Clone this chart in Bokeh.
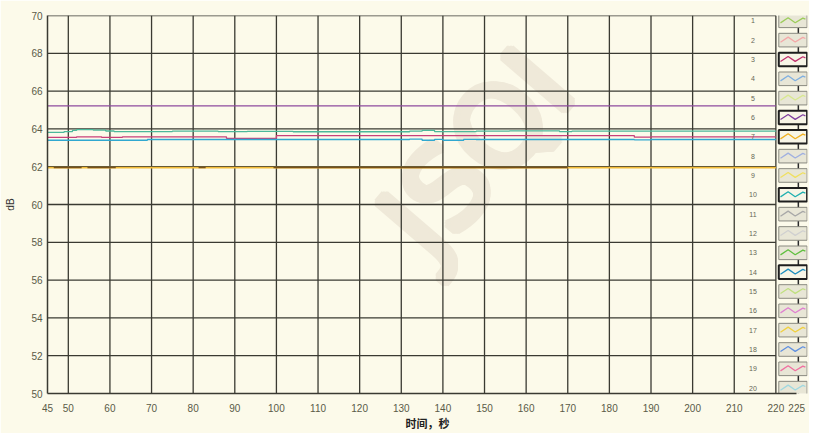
from bokeh.plotting import figure
from bokeh.models import FixedTicker, Range1d
from bokeh.core.properties import value
from bokeh.embed import file_html
from bokeh.resources import INLINE

# ---------------- data ----------------
x_ticks = [45, 50, 60, 70, 80, 90, 100, 110, 120, 130, 140, 150, 160, 170, 180, 190, 200, 210, 220, 225]
y_ticks = [50, 52, 54, 56, 58, 60, 62, 64, 66, 68, 70]

# channel 10 (teal green)
ch10_t = [45, 49, 51, 52, 56, 59, 61, 75, 86, 93, 104, 132, 135, 138, 148, 156, 168, 171, 220]
ch10_db = [63.82, 63.86, 63.92, 63.96, 63.93, 63.89, 63.86, 63.88, 63.86, 63.87, 63.85, 63.88, 63.92, 63.86, 63.88, 63.90, 63.86, 63.88, 63.88]
# channel 3 (magenta)
ch3_t = [45, 52, 58, 63, 88, 100, 186, 190, 220]
ch3_db = [63.55, 63.58, 63.55, 63.58, 63.50, 63.64, 63.56, 63.58, 63.58]
# channel 14 (blue)
ch14_t = [45, 69, 132, 135, 138, 140, 145, 148, 186, 190, 220]
ch14_db = [63.40, 63.44, 63.46, 63.40, 63.45, 63.40, 63.45, 63.44, 63.42, 63.44, 63.44]
# channel 6 (purple)
ch6_t = [45, 220]
ch6_db = [65.22, 65.22]
# channel 7 (orange)
ch7_t = [45, 220]
ch7_db = [61.95, 61.95]
# dark overlay segments on channel 7
dark_start = [46.5, 54.6, 81.3, 99.3]
dark_end = [53.2, 61.4, 83.0, 170.0]
dark_db = [61.95, 61.95, 61.95, 61.95]

legend_ids = list(range(1, 21))
legend_colors = ["#9ccc5a", "#f4a8a8", "#c0306e", "#80b0e0", "#d8e890",
                 "#8040a0", "#f0b020", "#a0b0e0", "#f0e060", "#20b0b0",
                 "#a8a8a8", "#d0d0d0", "#60c040", "#2090c0", "#c0e080",
                 "#e080d0", "#f0d040", "#6090e0", "#f070a0", "#a0d8e0"]
legend_active = [3, 6, 7, 10, 14]

BG = "#fcfaea"
GRID = "#3a3a32"

p = figure(width=809, height=433, output_backend="svg", toolbar_location=None,
           x_range=Range1d(45, 227.6), y_range=Range1d(50, 70),
           min_border_left=47, min_border_right=2, min_border_top=15, min_border_bottom=35,
           background_fill_color=BG, border_fill_color=BG)
p.outline_line_color = None
p.xgrid.visible = False
p.ygrid.visible = False

# axes
for ax in (p.xaxis, p.yaxis):
    ax.major_tick_in = 0
    ax.major_tick_out = 0
    ax.minor_tick_in = 0
    ax.minor_tick_out = 0
    ax.axis_line_color = GRID
    ax.axis_line_width = 1.5
    ax.major_label_text_font = "Liberation Sans"
    ax.major_label_text_font_size = "10px"
    ax.major_label_text_color = "#5a5a48"
p.xaxis.ticker = FixedTicker(ticks=x_ticks)
p.yaxis.ticker = FixedTicker(ticks=y_ticks)
p.xaxis.bounds = (45, 225)
p.xaxis.major_label_standoff = 10
p.yaxis.major_label_standoff = 5
p.xaxis.axis_label = "时间，秒"
p.xaxis.axis_label_text_font = "Noto Sans CJK SC"
p.xaxis.axis_label_text_font_style = "bold"
p.xaxis.axis_label_text_font_size = "11px"
p.xaxis.axis_label_text_color = "#222222"
p.xaxis.axis_label_standoff = 0
p.yaxis.axis_label = "dB"
p.yaxis.axis_label_text_font = "Liberation Sans"
p.yaxis.axis_label_text_font_style = "normal"
p.yaxis.axis_label_text_font_size = "10px"
p.yaxis.axis_label_text_color = "#333333"
p.yaxis.axis_label_standoff = 12

# watermark (drawn several times with small pixel offsets for a heavy look)
wm_dx = [dx for dx in (-3, -1.5, 0, 1.5, 3) for _ in range(5)]
wm_dy = [dy for _ in range(5) for dy in (-3, -1.5, 0, 1.5, 3)]
n_wm = len(wm_dx)
p.text(x=[148] * n_wm, y=[62.7] * n_wm, text=["JSQI"] * n_wm, angle=0.86,
       x_offset=wm_dx, y_offset=wm_dy, text_align="center", text_baseline="middle",
       text_font=value("DejaVu Sans"), text_font_size="112px", text_color="#efe9d9")

# grid lines drawn from tick lists
gx = x_ticks[1:-1]
gy = y_ticks[1:]
p.segment(x0=gx, y0=[y_ticks[0]] * len(gx), x1=gx, y1=[y_ticks[-1]] * len(gx),
          line_color=GRID, line_width=1.3)
p.segment(x0=[x_ticks[0]] * len(gy), y0=gy, x1=[x_ticks[-2]] * len(gy), y1=gy,
          line_color=GRID, line_width=1.3)

# data lines
p.step(ch6_t, ch6_db, mode="after", line_color="#8e4a9e", line_width=1.3)
p.step(ch10_t, ch10_db, mode="after", line_color="#4cb89a", line_width=1.3)
p.step(ch3_t, ch3_db, mode="after", line_color="#c8407a", line_width=1.3)
p.step(ch14_t, ch14_db, mode="after", line_color="#30a8d0", line_width=1.3)
p.step(ch7_t, ch7_db, mode="after", line_color="#f2bc3a", line_width=1.8)
p.segment(x0=dark_start, y0=dark_db, x1=dark_end, y1=dark_db, line_color="#7a5218", line_width=1.4)

# legend panel (right side)
row_y = [69.72 - (i - 1) * 1.023 for i in legend_ids]
box_x = 224.1
box_w = 6.8
box_h = 0.72
p.segment(x0=[225.4], y0=[50.0], x1=[225.4], y1=[row_y[0]], line_color="#2a2a2a", line_width=1.5)
p.text(x=[214.5] * 20, y=row_y, text=[str(i) for i in legend_ids], text_align="center",
       text_baseline="middle", text_font=value("Liberation Sans"), text_font_size="7px",
       text_color="#666655")
fills = ["#f7f5e6" if i in legend_active else "#e8e6d6" for i in legend_ids]
borders = ["#1e1e1e" if i in legend_active else "#8a8a80" for i in legend_ids]
widths = [2.0 if i in legend_active else 1.0 for i in legend_ids]
p.rect(x=[box_x] * 20, y=row_y, width=box_w, height=box_h, fill_color=fills,
       line_color=borders, line_width=widths)
zx_frac = [0.06, 0.33, 0.58, 0.85, 0.94]
zy_frac = [-0.15, 0.22, -0.14, 0.2, 0.12]
zxs = [[box_x - box_w / 2 + f * box_w for f in zx_frac] for _ in legend_ids]
zys = [[yc + f * box_h for f in zy_frac] for yc in row_y]
p.multi_line(xs=zxs, ys=zys, line_color=legend_colors, line_width=1.3)

open("out.html", "w").write(file_html(p, INLINE))
